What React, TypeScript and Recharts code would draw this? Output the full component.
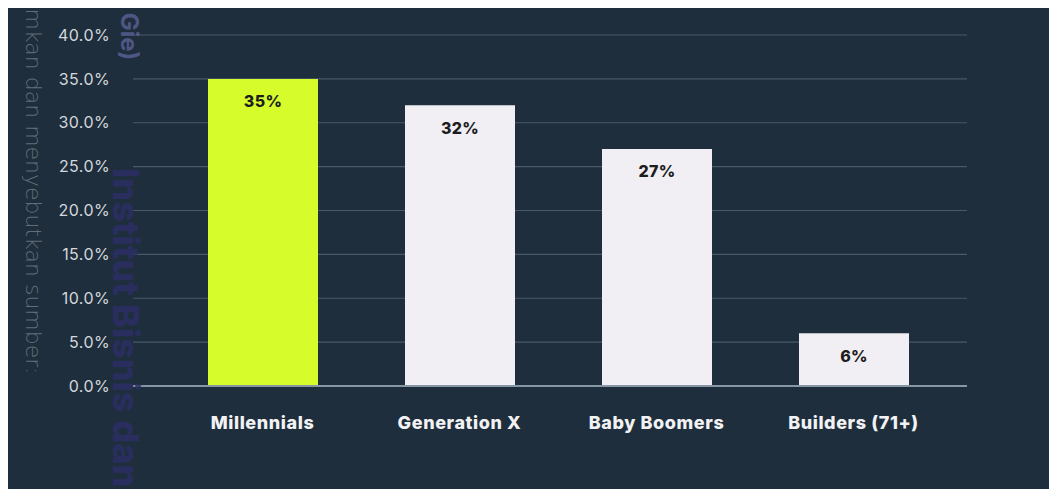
import React from "react";
import { BarChart, Bar, XAxis, YAxis, CartesianGrid, Cell, LabelList, ReferenceLine } from "recharts";

const categories = ["Millennials", "Generation X", "Baby Boomers", "Builders (71+)"];
const shares = [35, 32, 27, 6];
const yTicks = [0, 5, 10, 15, 20, 25, 30, 35, 40];
const barColors = ["#d6fd2b", "#f1eff3", "#f1eff3", "#f1eff3"];

const data = categories.map((name, i) => ({ name, value: shares[i] }));

const FONT = "Inter, 'Open Sans', sans-serif";

export default function App() {
  return (
    <div style={{ position: "relative", width: 1049, height: 481 }}>
      <div style={{ position: "relative", width: 1049, height: 481, background: "#1e2e3c" }}>
        <BarChart
          width={1049}
          height={481}
          data={data}
          margin={{ top: 27, right: 90, bottom: 0, left: 0 }}
          barCategoryGap={0}
        >
          <CartesianGrid vertical={false} stroke="#47596a" strokeWidth={1.2} />
          <XAxis
            dataKey="name"
            axisLine={false}
            tickLine={false}
            padding={{ left: 31, right: 15 }}
            height={103}
            tickMargin={24}
            tick={{ fill: "#f2f2f4", fontSize: 18, fontWeight: 800, fontFamily: FONT, letterSpacing: 0.6 }}
            interval={0}
          />
          <YAxis
            type="number"
            domain={[0, 40]}
            ticks={yTicks}
            width={125}
            axisLine={false}
            tickLine={false}
            tickMargin={17}
            tickFormatter={(v: number) => `${v.toFixed(1)}%`}
            tick={{ fill: "#d3d7dc", fontSize: 16, fontFamily: FONT, letterSpacing: 0.4 }}
          />
          <ReferenceLine y={0} stroke="#8796a4" strokeWidth={2} />
          <Bar dataKey="value" barSize={110} isAnimationActive={false}>
            {data.map((d, i) => (
              <Cell key={d.name} fill={barColors[i]} />
            ))}
            <LabelList
              dataKey="value"
              position="insideTop"
              offset={17}
              formatter={(v: number) => `${v}%`}
              style={{ fill: "#1d1d1f", fontSize: 16, fontWeight: 800, fontFamily: FONT, letterSpacing: 0.3 }}
            />
          </Bar>
        </BarChart>
      </div>
      <svg
        width={1057}
        height={489}
        style={{ position: "absolute", left: -8, top: -8, pointerEvents: "none" }}
      >
        <defs>
          <clipPath id="leftStrip">
            <rect x={0} y={0} width={8} height={489} />
          </clipPath>
        </defs>
        <g clipPath="url(#leftStrip)">
          <text
            transform="translate(-3,-30) rotate(90)"
            fontFamily="'DejaVu Sans', sans-serif"
            fontSize={22}
            fill="#6e6e6e"
          >
            san karya ilmiah, penyusunan laporan
          </text>
        </g>
        <text
          transform="translate(26,-14) rotate(90)"
          fontFamily="'DejaVu Sans', sans-serif"
          fontSize={22}
          fontWeight={200}
          fill="#6f7882"
          opacity={0.85}
        >
          tumkan dan menyebutkan sumber:
        </text>
        <text
          transform="translate(121,-8) rotate(90)"
          fontFamily={FONT}
          fontSize={24}
          fontWeight={700}
          fill="#7a78c0"
          opacity={0.55}
        >
          n Gie)
        </text>
        <text
          transform="translate(113,168) rotate(90)"
          fontFamily={FONT}
          fontSize={36}
          fontWeight={800}
          fill="#2d2f66"
          opacity={0.85}
        >
          Institut Bisnis dan
        </text>
      </svg>
    </div>
  );
}
